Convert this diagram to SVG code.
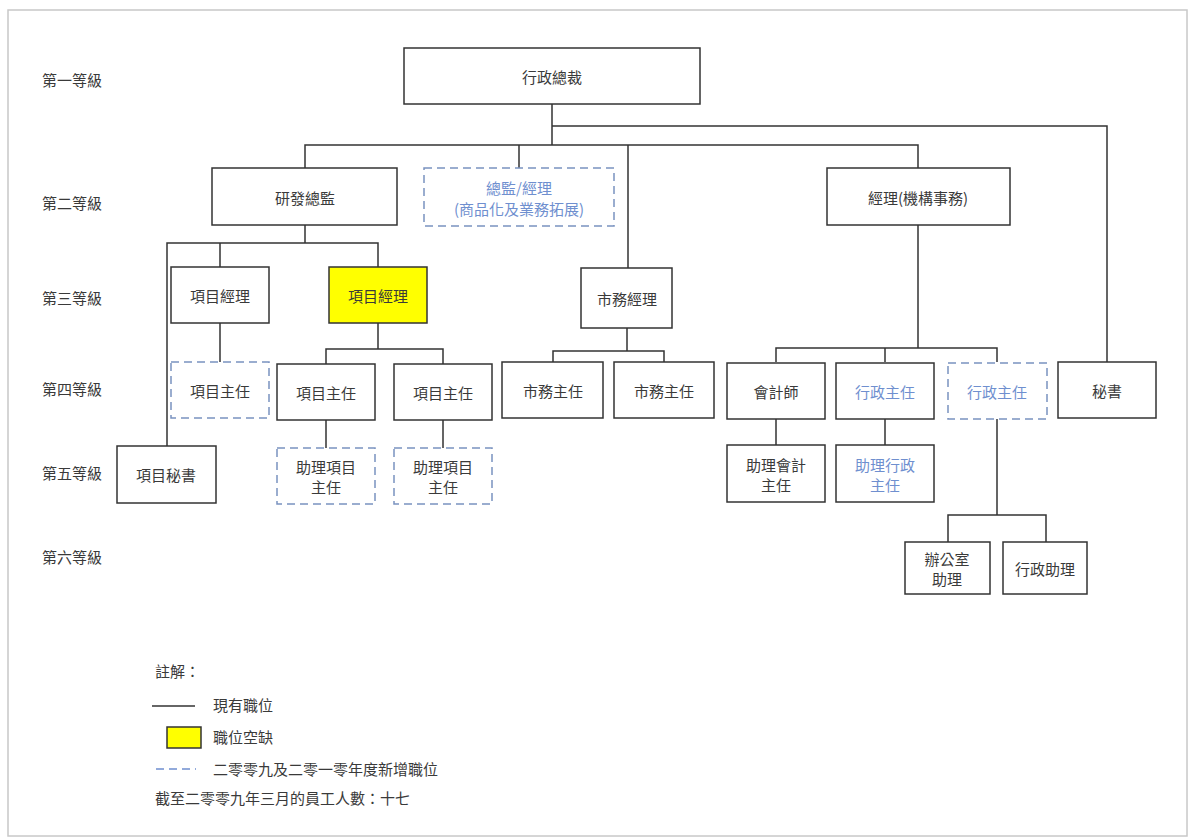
<svg xmlns="http://www.w3.org/2000/svg" width="1195" height="839" viewBox="0 0 1195 839">
<style>
text{font-family:"Noto Sans CJK TC","Noto Sans CJK SC",sans-serif;font-size:15px;fill:#3a3a3a}
.c{text-anchor:middle;dominant-baseline:central}
.b{fill:#6f8fcf}
.n{fill:#fff;stroke:#333;stroke-width:1.5}
.d{fill:#fff;stroke:#7a92c0;stroke-width:1.5;stroke-dasharray:8 5}
.y{fill:#ffff00;stroke:#333;stroke-width:1.5}
.l{fill:none;stroke:#333;stroke-width:1.5}
.lvl{font-size:16px}
.lg{font-size:15.5px}
</style>
<rect x="8" y="10" width="1179" height="826" fill="#fff" stroke="#c8c8c8" stroke-width="1.5"/>
<g id="levels" class="lvl">
<text x="42" y="86">第一等級</text>
<text x="42" y="209">第二等級</text>
<text x="42" y="304">第三等級</text>
<text x="42" y="395">第四等級</text>
<text x="42" y="479">第五等級</text>
<text x="42" y="563">第六等級</text>
</g>
<g id="connectors" class="l">
<path d="M552,104V145M552,126H1107V362"/>
<path d="M305,168V145H918V168M519,145V168M628,145V268"/>
<path d="M305,225V243M167,446V243H378V267M220,243V267"/>
<path d="M220,323V362"/>
<path d="M378,323V349M326,364V349H443V364"/>
<path d="M326,420V448M443,420V448"/>
<path d="M627,328V351M553,362V351H664V362"/>
<path d="M918,225V348M776,362V348H997V362M885,348V362"/>
<path d="M776,419V445M885,419V445"/>
<path d="M997,419V515M948,542V515H1046V542"/>
</g>
<g id="ceo"><rect class="n" x="404" y="48" width="296" height="56"/><text class="c" x="552" y="76">行政總裁</text></g>
<g id="rd-director"><rect class="n" x="212" y="168" width="185" height="57"/><text class="c" x="305" y="197">研發總監</text></g>
<g id="biz-director"><rect class="d" x="424" y="168" width="190" height="58"/><text class="c b" x="519" y="187">總監/經理</text><text class="c b" x="519" y="208">(商品化及業務拓展)</text></g>
<g id="admin-manager"><rect class="n" x="827" y="168" width="183" height="57"/><text class="c" x="918" y="197">經理(機構事務)</text></g>
<g id="pm1"><rect class="n" x="171" y="267" width="98" height="56"/><text class="c" x="220" y="295">項目經理</text></g>
<g id="pm2"><rect class="y" x="329" y="267" width="98" height="56"/><text class="c" x="378" y="295">項目經理</text></g>
<g id="mkt-manager"><rect class="n" x="581" y="268" width="91" height="60"/><text class="c" x="627" y="298">市務經理</text></g>
<g id="ps1"><rect class="d" x="171" y="362" width="98" height="56"/><text class="c" x="220" y="390">項目主任</text></g>
<g id="ps2"><rect class="n" x="277" y="364" width="98" height="56"/><text class="c" x="326" y="392">項目主任</text></g>
<g id="ps3"><rect class="n" x="394" y="364" width="98" height="56"/><text class="c" x="443" y="392">項目主任</text></g>
<g id="mkt1"><rect class="n" x="502" y="362" width="101" height="56"/><text class="c" x="553" y="390">市務主任</text></g>
<g id="mkt2"><rect class="n" x="614" y="362" width="100" height="56"/><text class="c" x="664" y="390">市務主任</text></g>
<g id="accountant"><rect class="n" x="727" y="363" width="98" height="56"/><text class="c" x="776" y="391">會計師</text></g>
<g id="admin1"><rect class="n" x="836" y="363" width="98" height="56"/><text class="c b" x="885" y="391">行政主任</text></g>
<g id="admin2"><rect class="d" x="948" y="363" width="99" height="56"/><text class="c b" x="997" y="391">行政主任</text></g>
<g id="secretary"><rect class="n" x="1058" y="362" width="98" height="56"/><text class="c" x="1107" y="390">秘書</text></g>
<g id="proj-sec"><rect class="n" x="117" y="446" width="99" height="57"/><text class="c" x="166" y="474">項目秘書</text></g>
<g id="aps1"><rect class="d" x="277" y="448" width="98" height="56"/><text class="c" x="326" y="466">助理項目</text><text class="c" x="326" y="486">主任</text></g>
<g id="aps2"><rect class="d" x="394" y="448" width="98" height="56"/><text class="c" x="443" y="466">助理項目</text><text class="c" x="443" y="486">主任</text></g>
<g id="asst-acc"><rect class="n" x="727" y="445" width="98" height="57"/><text class="c" x="776" y="464">助理會計</text><text class="c" x="776" y="484">主任</text></g>
<g id="asst-admin"><rect class="n" x="836" y="445" width="98" height="57"/><text class="c b" x="885" y="464">助理行政</text><text class="c b" x="885" y="484">主任</text></g>
<g id="office-asst"><rect class="n" x="905" y="542" width="85" height="52"/><text class="c" x="947" y="558">辦公室</text><text class="c" x="947" y="578">助理</text></g>
<g id="admin-asst"><rect class="n" x="1003" y="542" width="84" height="52"/><text class="c" x="1045" y="568">行政助理</text></g>
<g id="legend" class="lg">
<text x="155" y="677">註解：</text>
<line x1="152" y1="706" x2="195" y2="706" stroke="#333" stroke-width="1.5"/>
<text x="213" y="711">現有職位</text>
<rect x="167" y="727" width="34" height="21" fill="#ffff00" stroke="#333" stroke-width="1.5"/>
<text x="213" y="743">職位空缺</text>
<line x1="156" y1="769" x2="196" y2="769" stroke="#6f8fcf" stroke-width="1.5" stroke-dasharray="8 5"/>
<text x="213" y="775">二零零九及二零一零年度新增職位</text>
<text x="155" y="804">截至二零零九年三月的員工人數：十七</text>
</g>
</svg>
